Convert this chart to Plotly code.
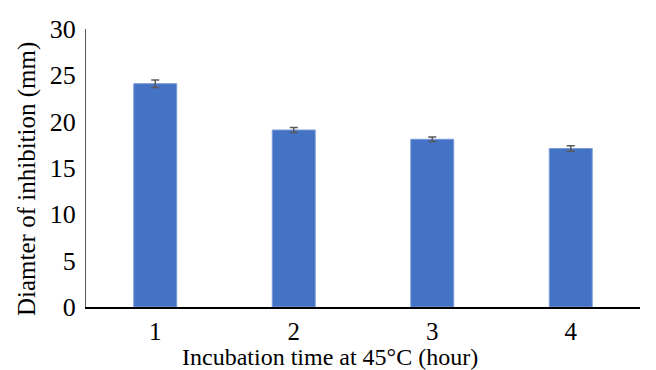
import plotly.graph_objects as go

categories = ["1", "2", "3", "4"]
values = [24.1, 19.1, 18.1, 17.1]
errors = [0.4, 0.27, 0.25, 0.3]
y_ticks = [0, 5, 10, 15, 20, 25, 30]

FONT = "Liberation Serif"
# page body has an 8px default margin; compensate in figure size
OFF = 8

fig = go.Figure()
fig.add_trace(go.Bar(
    x=categories, y=values,
    width=0.31,
    marker=dict(color="#4472C4", line=dict(color="#7A9BD8", width=1)),
    error_y=dict(type="data", array=errors, visible=True, color="#595959",
                 thickness=1.5, width=4),
))

fig.update_layout(
    width=656 - OFF, height=370 - OFF,
    margin=dict(l=86 - OFF, r=16, t=29 - OFF, b=63, autoexpand=False),
    paper_bgcolor="white", plot_bgcolor="white",
    showlegend=False,
    font=dict(family=FONT, color="black"),
    bargap=0.69,
)
fig.update_xaxes(
    type="category",
    showline=True, linecolor="black", linewidth=1.5,
    ticks="", tickfont=dict(size=25, family=FONT),
    ticklabelstandoff=1,
    showgrid=False,
)
fig.update_yaxes(
    range=[0, 30], tickvals=y_ticks,
    showline=True, linecolor="#595959", linewidth=1,
    ticks="", tickfont=dict(size=26, family=FONT),
    ticklabelstandoff=4,
    showgrid=False, zeroline=False,
)
fig.add_annotation(
    text="Incubation time at 45°C (hour)", xref="paper", yref="paper",
    x=(330 - 86) / 554, y=-(357 - 307) / 278, xanchor="center", yanchor="middle",
    showarrow=False, borderpad=0, font=dict(size=24, family=FONT),
)
fig.add_annotation(
    text="Diamter of inhibition (mm)", xref="paper", yref="paper",
    x=-(86 - 27) / 554, y=(307 - 179) / 278, xanchor="center", yanchor="middle",
    textangle=-90, showarrow=False, borderpad=0, font=dict(size=25, family=FONT),
)

fig.write_html("out.html")
